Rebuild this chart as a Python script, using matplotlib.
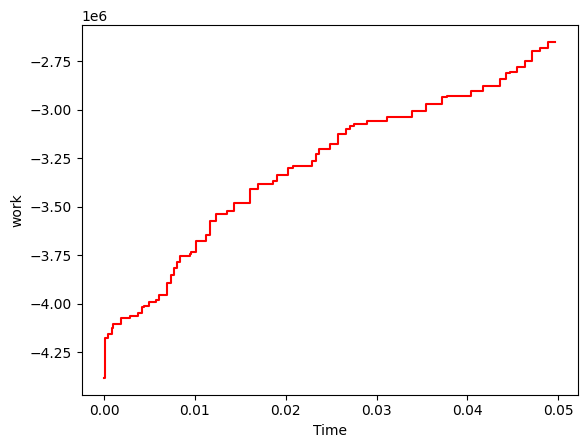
import matplotlib
matplotlib.use("Agg")
import matplotlib.pyplot as plt

# step change times (s) and work levels (x1e6)
time = [0.0, 0.00011, 0.00047, 0.00084, 0.00102, 0.00186, 0.00285, 0.00369,
        0.00413, 0.00440, 0.00497, 0.00567, 0.00603, 0.00694, 0.00742, 0.00771,
        0.00804, 0.00833, 0.00943, 0.00961, 0.01009, 0.01126, 0.01162, 0.01228,
        0.01352, 0.01425, 0.01608, 0.01692, 0.01857, 0.01904, 0.02029, 0.02083,
        0.02288, 0.02332, 0.02368, 0.02489, 0.02580, 0.02661, 0.02708, 0.02752,
        0.02891, 0.03118, 0.03392, 0.03538, 0.03714, 0.03776, 0.04039, 0.04167,
        0.04360, 0.04423, 0.04463, 0.04543, 0.04635, 0.04708, 0.04799, 0.04890,
        0.04963]
work = [-4.384, -4.176, -4.159, -4.128, -4.107, -4.076, -4.062, -4.047,
        -4.019, -4.011, -3.994, -3.982, -3.956, -3.895, -3.852, -3.818,
        -3.784, -3.754, -3.744, -3.732, -3.677, -3.646, -3.575, -3.539,
        -3.520, -3.479, -3.407, -3.384, -3.367, -3.336, -3.298, -3.289,
        -3.264, -3.229, -3.203, -3.174, -3.124, -3.100, -3.083, -3.071,
        -3.055, -3.038, -3.004, -2.969, -2.931, -2.926, -2.900, -2.875,
        -2.842, -2.811, -2.804, -2.780, -2.747, -2.695, -2.678, -2.649,
        -2.649]

work_abs = [w * 1e6 for w in work]

fig, ax = plt.subplots(figsize=(6.4, 4.8))
ax.step(time, work_abs, where='post', color='red')
ax.set_xlabel('Time')
ax.set_ylabel('work')

plt.savefig('out.png', dpi=100, bbox_inches='tight')
